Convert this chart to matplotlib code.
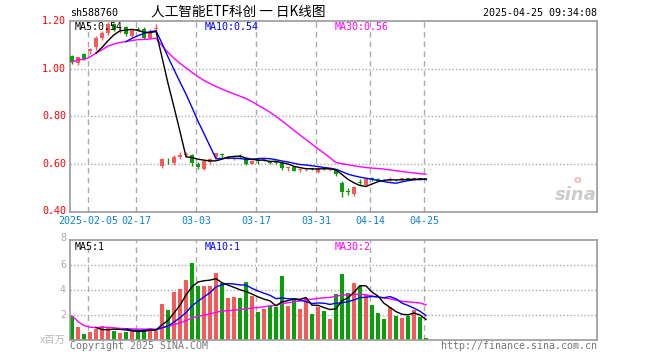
import matplotlib
matplotlib.use("Agg")
import matplotlib.pyplot as plt
import numpy as np
import pandas as pd

# ---------------- data ----------------
dates = ["01-23", "01-24", "01-27", "2025-02-05", "02-06", "02-07", "02-10", "02-11", "02-12", "02-13",
         "02-14", "02-17", "02-18", "02-19", "02-20", "02-21", "02-24", "02-25", "02-26", "02-27",
         "02-28", "03-03", "03-04", "03-05", "03-06", "03-07", "03-10", "03-11", "03-12", "03-13",
         "03-14", "03-17", "03-18", "03-19", "03-20", "03-21", "03-24", "03-25", "03-26", "03-27",
         "03-28", "03-31", "04-01", "04-02", "04-03", "04-07", "04-08", "04-09", "04-10", "04-11",
         "04-14", "04-15", "04-16", "04-17", "04-18", "04-21", "04-22", "04-23", "04-24", "04-25"]

opens = [1.054, 1.025, 1.065, 1.074, 1.094, 1.130, 1.150, 1.190, 1.163, 1.176,
         1.140, 1.170, 1.170, 1.130, 1.170, 0.592, 0.622, 0.603, 0.628, 0.639,
         0.638, 0.600, 0.578, 0.608, 0.628, 0.640, 0.627, 0.622, 0.635, 0.625,
         0.600, 0.616, 0.618, 0.611, 0.607, 0.603, 0.584, 0.589, 0.574, 0.579,
         0.582, 0.566, 0.581, 0.574, 0.573, 0.522, 0.485, 0.474, 0.524, 0.513,
         0.543, 0.535, 0.534, 0.530, 0.534, 0.533, 0.539, 0.533, 0.540, 0.538]
highs = [1.057, 1.052, 1.068, 1.090, 1.137, 1.160, 1.198, 1.195, 1.178, 1.180,
         1.170, 1.175, 1.175, 1.170, 1.190, 0.625, 0.627, 0.637, 0.651, 0.649,
         0.640, 0.609, 0.614, 0.626, 0.648, 0.646, 0.634, 0.630, 0.640, 0.628,
         0.618, 0.622, 0.627, 0.614, 0.610, 0.606, 0.588, 0.591, 0.579, 0.585,
         0.584, 0.587, 0.584, 0.580, 0.577, 0.530, 0.497, 0.508, 0.535, 0.540,
         0.546, 0.539, 0.537, 0.545, 0.538, 0.542, 0.541, 0.547, 0.543, 0.540]
lows = [1.022, 1.015, 1.036, 1.065, 1.078, 1.122, 1.145, 1.160, 1.150, 1.140,
        1.130, 1.160, 1.125, 1.128, 1.160, 0.583, 0.602, 0.597, 0.620, 0.628,
        0.592, 0.577, 0.575, 0.600, 0.625, 0.628, 0.622, 0.618, 0.626, 0.594,
        0.598, 0.602, 0.612, 0.602, 0.600, 0.576, 0.572, 0.570, 0.566, 0.572,
        0.574, 0.560, 0.574, 0.570, 0.550, 0.460, 0.470, 0.465, 0.512, 0.510,
        0.530, 0.528, 0.527, 0.528, 0.528, 0.530, 0.531, 0.531, 0.533, 0.531]
closes = [1.029, 1.050, 1.040, 1.082, 1.132, 1.150, 1.190, 1.165, 1.166, 1.148,
          1.165, 1.166, 1.130, 1.155, 1.173, 0.621, 0.619, 0.631, 0.639, 0.642,
          0.603, 0.586, 0.611, 0.622, 0.645, 0.637, 0.630, 0.625, 0.630, 0.601,
          0.614, 0.613, 0.621, 0.605, 0.604, 0.583, 0.587, 0.572, 0.577, 0.582,
          0.579, 0.584, 0.578, 0.577, 0.557, 0.483, 0.482, 0.504, 0.521, 0.537,
          0.534, 0.532, 0.531, 0.536, 0.531, 0.539, 0.534, 0.539, 0.537, 0.536]
# volume in millions; up flag marks red (rising) days
volumes = [1.92, 1.05, 0.48, 0.65, 0.88, 1.12, 0.97, 0.72, 0.56, 0.66,
           0.76, 0.70, 0.83, 0.96, 0.73, 2.88, 2.40, 3.84, 4.08, 4.80,
           6.16, 4.33, 4.33, 4.33, 5.36, 4.57, 3.36, 3.44, 3.37, 4.66,
           3.55, 2.26, 2.50, 2.70, 2.66, 5.14, 2.74, 3.23, 2.50, 3.38,
           2.10, 2.66, 2.34, 1.70, 3.71, 5.31, 3.79, 4.59, 4.33, 3.63,
           2.83, 2.19, 1.71, 2.67, 1.95, 1.79, 1.95, 2.43, 1.87, 0.19]
vol_up = [0, 1, 0, 1, 1, 1, 1, 0, 1, 0,
          1, 0, 0, 1, 1, 1, 0, 1, 1, 1,
          0, 0, 1, 1, 1, 0, 1, 1, 0, 0,
          1, 0, 1, 0, 0, 0, 1, 0, 1, 1,
          0, 1, 0, 1, 0, 0, 0, 1, 0, 1,
          0, 0, 0, 1, 0, 1, 0, 1, 0, 0]

tick_idx = [3, 11, 21, 31, 41, 50, 59]
price_ticks = [0.40, 0.60, 0.80, 1.00, 1.20]
vol_ticks = [2, 4, 6, 8]

title_code = "sh588760"
title_name = "人工智能ETF科创 一 日K线图"
timestamp = "2025-04-25 09:34:08"
price_ma_labels = ["MA5:0.54", "MA10:0.54", "MA30:0.56"]
vol_ma_labels = ["MA5:1", "MA10:1", "MA30:2"]

# ---------------- style ----------------
RED = "#f45a5a"
GREEN = "#0a9e0a"
MONO = "DejaVu Sans Mono"
CJK = ["Noto Sans CJK SC", "DejaVu Sans"]
GRID = "#aaaaaa"
GRID_SHIFT = -0.28   # gridlines sit slightly left of candle centres

W, H = 660, 360
fig = plt.figure(figsize=(W / 100, H / 100), dpi=100)
fig.patch.set_facecolor("white")


def rect(x0, y0, x1, y1):
    return [x0 / W, 1 - y1 / H, (x1 - x0) / W, (y1 - y0) / H]


def ftext(x, y, s, **kw):
    fig.text(x / W, 1 - y / H, s, **kw)


n = len(closes)
xs = np.arange(n)
df = pd.DataFrame({"o": opens, "h": highs, "l": lows, "c": closes, "v": volumes})

axp = fig.add_axes(rect(70, 20.5, 597, 211.5))
axv = fig.add_axes(rect(70, 240, 597, 340))

XL = (-1 / 3, 87.5)
for ax in (axp, axv):
    ax.set_xlim(*XL)
    for s in ax.spines.values():
        s.set_color("#999999")
        s.set_linewidth(1.2)
    ax.tick_params(length=0)
    ax.set_xticks([])
    for t in tick_idx:
        ax.axvline(t + GRID_SHIFT, color=GRID, lw=1, ls=(0, (4, 3)), zorder=0)

# ---- price panel ----
axp.set_ylim(0.40, 1.204)
axp.set_yticks([])
for p in price_ticks[1:-1]:
    axp.axhline(p, color=GRID, lw=1, ls=(0, (1, 1.5)), zorder=0)

up = df["c"] >= df["o"]
colors = np.where(up, RED, GREEN)
axp.vlines(xs, df["l"], df["h"], colors=colors, lw=1, zorder=2)
body_bottom = np.minimum(df["o"], df["c"])
body_h = np.maximum(np.abs(df["c"] - df["o"]), 0.0025)
axp.bar(xs, body_h, bottom=body_bottom, width=0.8, color=colors, zorder=3, linewidth=0)

ma5 = df["c"].rolling(5).mean()
ma10 = df["c"].rolling(10).mean()
ma30 = df["c"].rolling(30, min_periods=1).mean()
axp.plot(xs, ma30, color="#ff00ff", lw=1, zorder=4)
axp.plot(xs, ma10, color="#0000ff", lw=1, zorder=4)
axp.plot(xs, ma5, color="black", lw=1, zorder=4)

# sina watermark
axp.text(1.0, 0.04, "sina", transform=axp.transAxes, ha="right", va="bottom",
         fontsize=13, fontstyle="italic", fontweight="bold", color="#cccccc", zorder=1)
axp.text(0.962, 0.14, "o", transform=axp.transAxes, ha="center", va="bottom",
         fontsize=8, fontweight="bold", color="#f2b8b8", zorder=1)

# ---- volume panel ----
axv.set_ylim(0, 8)
axv.set_yticks([])
for v in vol_ticks[:-1]:
    axv.axhline(v, color=GRID, lw=1, ls=(0, (1, 1.5)), zorder=0)
vcolors = [RED if u else GREEN for u in vol_up]
axv.bar(xs, df["v"], width=0.8, color=vcolors, linewidth=0, zorder=2)
vma5 = df["v"].rolling(5).mean()
vma10 = df["v"].rolling(10).mean()
vma30 = df["v"].rolling(30, min_periods=1).mean()
axv.plot(xs, vma30, color="#ff00ff", lw=1, zorder=4)
axv.plot(xs, vma10, color="#0000ff", lw=1, zorder=4)
axv.plot(xs, vma5, color="black", lw=1, zorder=4)

# ---------------- texts ----------------
fs = 7.2
for p in price_ticks:
    yp = axp.transData.transform((0, p))[1]
    ypx = H - yp
    ftext(66, ypx, f"{p:.2f}", ha="right", va="center", color="#ff0000", fontsize=fs, family=MONO)
for t in tick_idx:
    xp = axp.transData.transform((t + GRID_SHIFT, 0))[0]
    ftext(xp, 221, dates[t], ha="center", va="center", color="#0a82d2", fontsize=fs, family=MONO)
for v in vol_ticks:
    yp = H - axv.transData.transform((0, v))[1]
    ftext(66, yp - (2 if v == 8 else 0), str(v), ha="right", va="center", color="#aaaaaa",
          fontsize=fs, family=MONO)
ftext(66, 340, "x百万", ha="right", va="center", color="#bbbbbb", fontsize=7.5, family=CJK)

ftext(70, 13, title_code, ha="left", va="center", color="black", fontsize=fs, family=MONO)
ftext(151, 12, title_name, ha="left", va="center", color="black", fontsize=9.8, family=CJK)
ftext(597, 13, timestamp, ha="right", va="center", color="black", fontsize=fs, family=MONO)

ma_cols = ["black", "#0000ff", "#ff00ff"]
ma_x = [75, 205, 335]
for lab, c, x in zip(price_ma_labels, ma_cols, ma_x):
    ftext(x, 27, lab, ha="left", va="center", color=c, fontsize=fs, family=MONO)
for lab, c, x in zip(vol_ma_labels, ma_cols, ma_x):
    ftext(x, 247, lab, ha="left", va="center", color=c, fontsize=fs, family=MONO)

ftext(70, 346, "Copyright 2025 SINA.COM", ha="left", va="center", color="#777777", fontsize=fs, family=MONO)
ftext(597, 346, "http://finance.sina.com.cn", ha="right", va="center", color="#777777", fontsize=fs, family=MONO)

fig.savefig("out.png", dpi=100)
